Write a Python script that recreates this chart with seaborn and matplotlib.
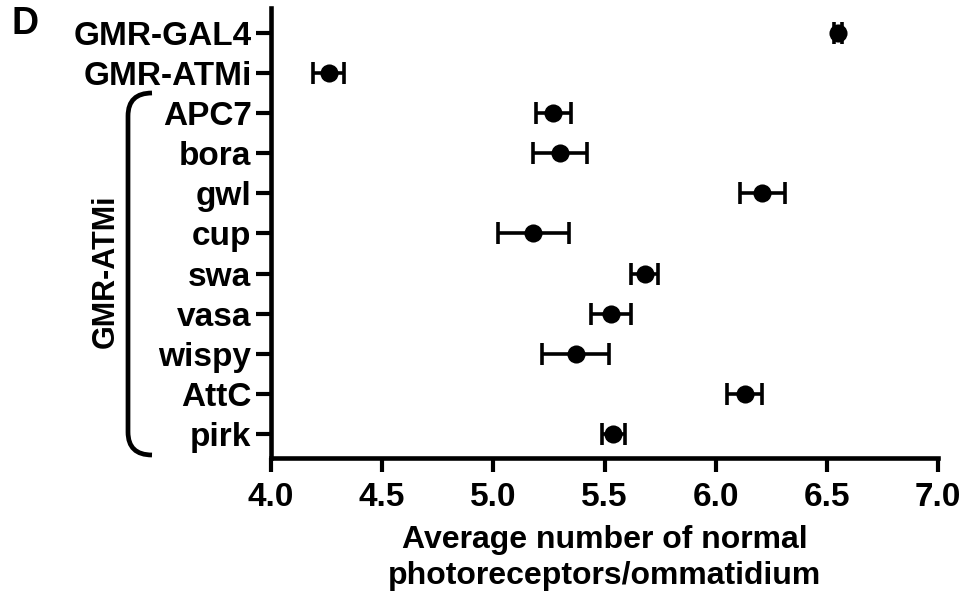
import numpy as np
import pandas as pd
import matplotlib
matplotlib.use("Agg")
import matplotlib.pyplot as plt
from matplotlib.path import Path
from matplotlib.patches import PathPatch
import seaborn as sns

# Genotypes, top to bottom
lines = ["GMR-GAL4", "GMR-ATMi", "APC7", "bora", "gwl", "cup",
         "swa", "vasa", "wispy", "AttC", "pirk"]
# Mean normal photoreceptors per ommatidium and SEM
means = [6.55, 4.26, 5.27, 5.30, 6.21, 5.18, 5.68, 5.53, 5.37, 6.13, 5.54]
sems = [0.02, 0.07, 0.08, 0.12, 0.10, 0.16, 0.06, 0.09, 0.15, 0.08, 0.05]
x_ticks = [4.0, 4.5, 5.0, 5.5, 6.0, 6.5, 7.0]

df = pd.DataFrame({"line": lines, "mean": means, "sem": sems})

sns.set_style("ticks")
plt.rcParams["font.family"] = ["Liberation Sans", "DejaVu Sans"]
plt.rcParams["font.weight"] = "bold"
for key in ("text.color", "axes.labelcolor", "xtick.color", "ytick.color",
            "axes.edgecolor"):
    plt.rcParams[key] = "black"

W, H = 966, 600
fig = plt.figure(figsize=(W / 100, H / 100), dpi=100)
ax = fig.add_axes([271 / W, 1 - 458 / H, (938 - 271) / W, (458 - 8) / H])

ax.errorbar(df["mean"], df["line"], xerr=df["sem"], fmt="none",
            ecolor="black", elinewidth=2.6, capsize=8, capthick=2.6, zorder=2)
sns.scatterplot(data=df, x="mean", y="line", ax=ax, color="black",
                s=170, edgecolor="black", linewidth=0, zorder=3, legend=False)

ax.set_xlim(4.0, 7.0)
ax.set_ylim(len(lines) - 1 + 0.6, -0.62)
ax.set_xticks(x_ticks)
ax.set_xticklabels([f"{t:.1f}" for t in x_ticks], fontsize=24, fontweight="bold")
ax.set_yticks(range(len(lines)))
ax.set_yticklabels(lines, fontsize=24, fontweight="bold")

for side in ("top", "right"):
    ax.spines[side].set_visible(False)
for side in ("left", "bottom"):
    ax.spines[side].set_linewidth(3.3)
    ax.spines[side].set_color("black")
    ax.spines[side].set_capstyle("projecting")
ax.tick_params(axis="y", length=11, width=3.0, pad=3, colors="black")
ax.tick_params(axis="x", length=10, width=3.0, pad=7, colors="black")

ax.set_xlabel("Average number of normal\nphotoreceptors/ommatidium",
              fontsize=23, fontweight="bold", labelpad=9, linespacing=1.25)
ax.set_ylabel("")

# Bracket grouping the GMR-ATMi backgrounds
def fp(x, y):
    return (x / W, 1 - y / H)

verts = [fp(152, 93), fp(128, 93), fp(128, 116),
         fp(128, 432), fp(128, 455), fp(152, 455)]
codes = [Path.MOVETO, Path.CURVE3, Path.CURVE3,
         Path.LINETO, Path.CURVE3, Path.CURVE3]
fig.add_artist(PathPatch(Path(verts, codes), transform=fig.transFigure,
                         fill=False, lw=3.4, edgecolor="black",
                         capstyle="butt"))
fig.text(106 / W, 1 - 271 / H, "GMR-ATMi", rotation=90, ha="center",
         va="center", fontsize=22, fontweight="bold")

fig.text(25 / W, 1 - 24 / H, "D", ha="center", va="center",
         fontsize=27, fontweight="bold")

fig.savefig("out.png", dpi=100, facecolor="white")
